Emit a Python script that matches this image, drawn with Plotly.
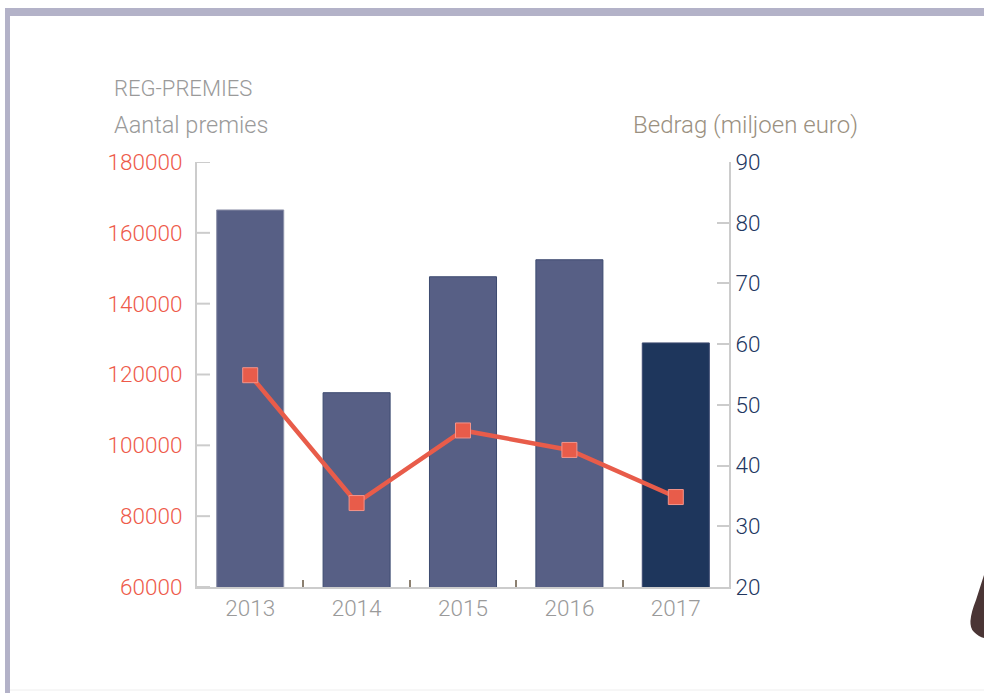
import plotly.graph_objects as go

years = ["2013", "2014", "2015", "2016", "2017"]
bedrag = [82.1, 52.0, 71.1, 73.9, 60.2]          # miljoen euro (bars, right axis)
aantal = [119800, 83700, 104200, 98700, 85400]   # aantal premies (line, left axis)
left_ticks = [60000, 80000, 100000, 120000, 140000, 160000, 180000]
right_ticks = [20, 30, 40, 50, 60, 70, 80, 90]
bar_colors = ["#575f85", "#575f85", "#575f85", "#575f85", "#1e365c"]
bar_edges = ["#8d92aa", "#3c4a70", "#3c4a70", "#3c4a70", "#3c4a70"]

W, H = 984, 693
L, R, T, B = 197, 729, 162, 587

def px(x):
    return (x - L) / (R - L)

def py(y):
    return (B - y) / (B - T)

fig = go.Figure()
fig.add_trace(go.Bar(
    x=years, y=bedrag, yaxis="y", width=0.63,
    marker=dict(color=bar_colors, line=dict(color=bar_edges, width=1)),
    showlegend=False, hoverinfo="x+y"))
fig.add_trace(go.Scatter(
    x=years, y=aantal, yaxis="y2", mode="lines+markers",
    line=dict(color="#e85c4a", width=4.5),
    marker=dict(symbol="square", size=15, color="#e85c4a",
                line=dict(color="#f4948a", width=1)),
    showlegend=False))

font_fam = "Roboto, Liberation Sans, sans-serif"
TS = 22.5

shapes = [
    dict(type="rect", xref="paper", yref="paper", x0=px(5), x1=px(984), y0=py(8), y1=py(16),
         fillcolor="#b3b2c8", line=dict(width=0), layer="above"),
    dict(type="rect", xref="paper", yref="paper", x0=px(5), x1=px(10), y0=py(8), y1=py(693),
         fillcolor="#b3b2c8", line=dict(width=0), layer="above"),
    dict(type="line", xref="paper", yref="paper", x0=px(10), x1=px(984), y0=py(690), y1=py(690),
         line=dict(color="#eeeeee", width=1)),
    dict(type="path", xref="paper", yref="paper",
         path=f"M {px(984)},{py(575)} L {px(976)},{py(600)} Q {px(966)},{py(625)} {px(974)},{py(632)} "
              f"Q {px(979)},{py(637)} {px(984)},{py(638)} Z",
         fillcolor="#4a3535", line=dict(width=0)),
]
# inside tick marks for the left (overlaying) axis
for v in left_ticks:
    shapes.append(dict(type="line", xref="paper", yref="y2", x0=0, x1=px(210), y0=v, y1=v,
                       line=dict(color="#cccccc", width=2), layer="above"))

fig.update_layout(
    width=W, height=H,
    margin=dict(l=L, r=W - R, t=T, b=H - B),
    paper_bgcolor="white", plot_bgcolor="white",
    font=dict(family=font_fam),
    xaxis=dict(
        showgrid=False, showline=True, linecolor="#cccccc", linewidth=2,
        ticks="inside", tickson="boundaries", ticklen=7, tickwidth=2,
        tickcolor="#8c8070",
        tickfont=dict(size=TS, color="#9a9a9a", family=font_fam, weight=300),
    ),
    yaxis=dict(
        side="right", range=[20, 90], tickvals=right_ticks,
        showgrid=False, zeroline=False, showline=True, linecolor="#cccccc", linewidth=2,
        ticks="inside", ticklen=12, tickwidth=2, tickcolor="#cccccc",
        tickfont=dict(size=TS, color="#22375f", family=font_fam, weight=300),
    ),
    yaxis2=dict(
        side="left", overlaying="y", range=[60000, 180000],
        tickvals=left_ticks,
        showgrid=False, zeroline=False, showline=True, linecolor="#cccccc", linewidth=2,
        ticks="", ticklabelstandoff=8,
        tickformat="d",
        tickfont=dict(size=TS, color="#ee5a4a", family=font_fam, weight=300),
    ),
    annotations=[
        dict(text="REG-PREMIES", x=px(112), y=py(89), xref="paper", yref="paper",
             xanchor="left", yanchor="middle", showarrow=False,
             font=dict(size=22, color="#9a9a9a", family=font_fam, weight=300)),
        dict(text="Aantal premies", x=px(112), y=py(125), xref="paper", yref="paper",
             xanchor="left", yanchor="middle", showarrow=False,
             font=dict(size=23.5, color="#9a9a9a", family=font_fam, weight=300)),
        dict(text="Bedrag (miljoen euro)", x=px(860), y=py(125), xref="paper", yref="paper",
             xanchor="right", yanchor="middle", showarrow=False,
             font=dict(size=24, color="#9a9080", family=font_fam, weight=300)),
    ],
    shapes=shapes,
)

fig.write_html("out.html", config={"displayModeBar": False},
               post_script="document.body.style.margin='0px';document.body.style.overflow='hidden';")
